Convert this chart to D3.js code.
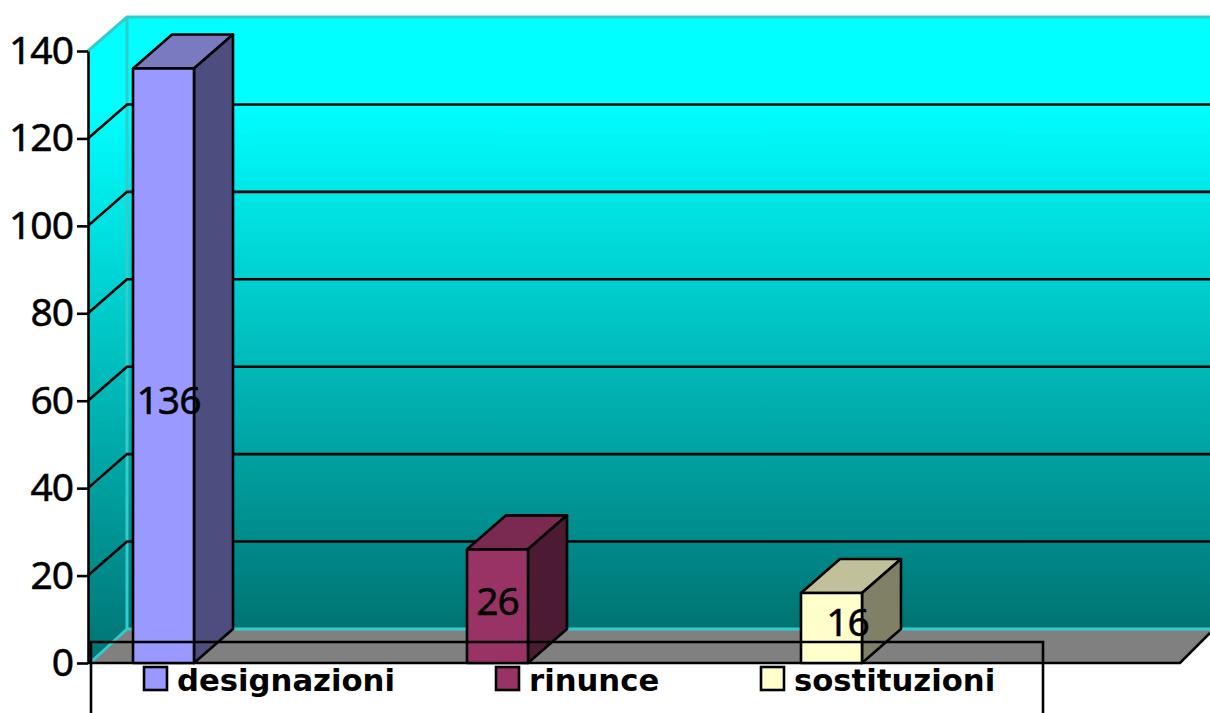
<!DOCTYPE html>
<html>
<head>
<meta charset="utf-8">
<script src="https://cdn.jsdelivr.net/npm/d3@7"></script>
<style>
  html, body { margin: 0; padding: 0; background: #fff; overflow: hidden; }
  svg { display: block; }
  text { fill: #000; }
</style>
</head>
<body>
<div id="chart"></div>
<script>
// values
const categories = ["designazioni", "rinunce", "sostituzioni"];
const values = [136, 26, 16];
const yTicks = [0, 20, 40, 60, 80, 100, 120, 140];

const frontColors = ["#9999ff", "#993366", "#ffffcc"];
const topColors = ["#7a7ac0", "#7a2950", "#c0c09a"];
const sideColors = ["#4d4d80", "#4d1a33", "#808066"];

const width = 1210;
const height = 713;
const depthX = 39;
const depthY = 34;
const barWidth = 61;
const lineW = 2.6;
const tickFont = "'Noto Sans', 'Open Sans', sans-serif";
const legendFont = "'DejaVu Sans', sans-serif";

const y = d3.scaleLinear().domain([0, 140]).range([663, 51]);
const x = d3.scalePoint().domain(categories).range([163.5, 831.5]);
// legend entries are not evenly spaced in the original
const legendX = d3.scaleOrdinal(categories, [144, 496, 761]);

// data labels do not sit centred in the original, nudged by hand
const labelNudge = [[5, 34], [0, -5], [16, -6]];

const svg = d3.select("#chart").append("svg").attr("width", width).attr("height", height);

const grad = svg.append("defs").append("linearGradient")
  .attr("id", "wall").attr("x1", 0).attr("y1", 0).attr("x2", 0).attr("y2", 1);
grad.append("stop").attr("offset", "0%").attr("stop-color", "#00ffff");
grad.append("stop").attr("offset", "14%").attr("stop-color", "#00ffff");
grad.append("stop").attr("offset", "100%").attr("stop-color", "#007373");

const x0 = 88;
const xRight = 1180;
const y0 = y(0);
const yTop = y(140);
const poly = (pts) => "M" + pts.map((p) => p.join(",")).join("L") + "Z";

// --- walls and floor ---
svg.append("path")
  .attr("d", poly([[x0, yTop], [x0 + depthX, yTop - depthY], [x0 + depthX, y0 - depthY], [x0, y0]]))
  .attr("fill", "url(#wall)");
svg.append("rect")
  .attr("x", x0 + depthX).attr("y", yTop - depthY)
  .attr("width", width - x0 - depthX).attr("height", y0 - yTop)
  .attr("fill", "url(#wall)");
svg.append("path")
  .attr("d", poly([[x0 + 2, y0], [x0 + depthX, y0 - depthY], [width, y0 - depthY], [width, y0 - 30], [xRight, y0]]))
  .attr("fill", "#808080");

// wall edges
const edge = svg.append("g").attr("fill", "none").attr("stroke", "#33cccc").attr("stroke-width", 3);
edge.append("path").attr("d", `M${x0},${yTop}L${x0 + depthX},${yTop - depthY}H${width}`);
edge.append("path").attr("d", `M${x0 + depthX},${yTop - depthY}V${y0 - depthY}H${width}`);
edge.append("path").attr("d", `M${x0 + depthX},${y0 - depthY}L${x0 + 2},${y0}`);

// --- gridlines ---
const grid = svg.append("g").attr("fill", "none").attr("stroke", "#000").attr("stroke-width", lineW);
yTicks.filter((t) => t > 0 && t < 140).forEach((t) => {
  grid.append("path").attr("d", `M${x0},${y(t)}L${x0 + depthX},${y(t) - depthY}H${width}`);
});

// --- axis ---
const axis = svg.append("g")
  .attr("transform", `translate(${x0},0)`)
  .call(d3.axisLeft(y).tickValues(yTicks).tickSize(11).tickPadding(4).tickSizeOuter(0));
axis.selectAll("path, line").attr("stroke", "#000").attr("stroke-width", lineW);
axis.selectAll("text")
  .attr("font-family", tickFont).attr("font-size", 39).attr("fill", "#000")
  .attr("stroke", "#000").attr("stroke-width", 0.5)
  .attr("letter-spacing", -1);

// floor front edge
svg.append("path")
  .attr("d", `M${x0},${y0}H${xRight}L${width},${y0 - 30}`)
  .attr("fill", "none").attr("stroke", "#000").attr("stroke-width", lineW);

// --- bars ---
const bars = svg.append("g").selectAll("g").data(categories).join("g")
  .attr("stroke", "#000").attr("stroke-width", lineW).attr("stroke-linejoin", "round");
bars.append("path")
  .attr("d", (d, i) => {
    const l = x(d) - barWidth / 2, t = y(values[i]);
    return poly([[l, t], [l + depthX, t - depthY], [l + barWidth + depthX, t - depthY], [l + barWidth, t]]);
  })
  .attr("fill", (d, i) => topColors[i]);
bars.append("path")
  .attr("d", (d, i) => {
    const r = x(d) + barWidth / 2, t = y(values[i]);
    return poly([[r, t], [r + depthX, t - depthY], [r + depthX, y0 - depthY], [r, y0]]);
  })
  .attr("fill", (d, i) => sideColors[i]);
bars.append("rect")
  .attr("x", (d) => x(d) - barWidth / 2)
  .attr("y", (d, i) => y(values[i]))
  .attr("width", barWidth)
  .attr("height", (d, i) => y0 - y(values[i]))
  .attr("fill", (d, i) => frontColors[i]);

// --- data labels ---
svg.append("g").selectAll("text").data(categories).join("text")
  .attr("x", (d, i) => x(d) + labelNudge[i][0])
  .attr("y", (d, i) => (y(values[i]) + y0) / 2 + labelNudge[i][1])
  .attr("dy", "0.36em")
  .attr("text-anchor", "middle")
  .attr("font-family", tickFont).attr("font-size", 39)
  .attr("stroke", "#000").attr("stroke-width", 0.5)
  .attr("letter-spacing", -1)
  .text((d, i) => values[i]);

// --- legend, box runs off the bottom of the page ---
svg.append("path")
  .attr("d", `M91,${height + 4}V642H1043V${height + 4}`)
  .attr("fill", "none").attr("stroke", "#000").attr("stroke-width", lineW);
const legend = svg.append("g").selectAll("g").data(categories).join("g")
  .attr("transform", (d) => `translate(${legendX(d)},667)`);
legend.append("rect")
  .attr("width", 23).attr("height", 23)
  .attr("fill", (d, i) => frontColors[i])
  .attr("stroke", "#000").attr("stroke-width", lineW);
legend.append("text")
  .attr("x", 33).attr("y", 24)
  .attr("font-family", legendFont).attr("font-size", 30.7).attr("font-weight", "bold")
  .text((d) => d);
</script>
</body>
</html>
